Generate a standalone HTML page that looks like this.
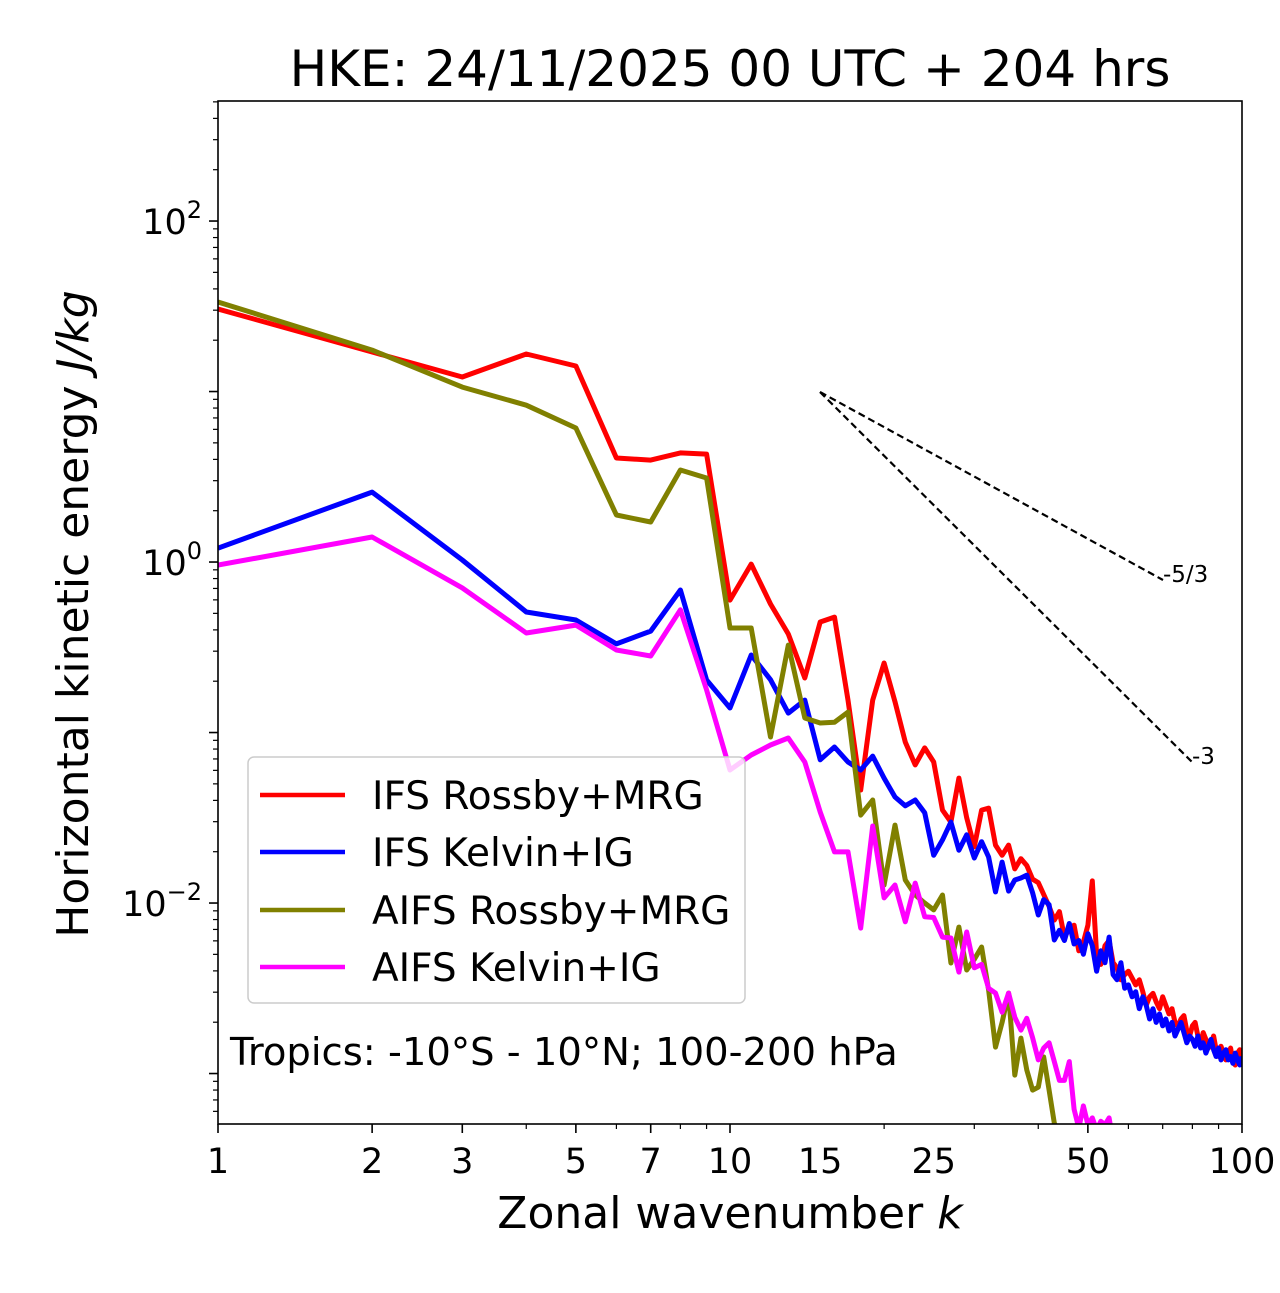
<!DOCTYPE html>
<html><head><meta charset="utf-8"><style>
body{margin:0;background:#fff}
svg text{font-family:"DejaVu Sans","Liberation Sans",sans-serif}
</style></head><body>
<svg id="chart" width="1280" height="1288" viewBox="0 0 1280 1288" xmlns="http://www.w3.org/2000/svg">
<rect width="1280" height="1288" fill="#fff"/>
<text x="730" y="86" font-size="50" text-anchor="middle">HKE: 24/11/2025 00 UTC + 204 hrs</text>
<defs><clipPath id="pc"><rect x="218" y="101" width="1024" height="1023"/></clipPath></defs>
<g id="ticks"></g>
<g id="series" clip-path="url(#pc)"></g>
<rect x="218" y="101" width="1024" height="1023" fill="none" stroke="#000" stroke-width="1.6"/>
<text x="730" y="1228" font-size="44" text-anchor="middle">Zonal wavenumber <tspan font-style="italic">k</tspan></text>
<text transform="translate(88,614) rotate(-90)" font-size="44" text-anchor="middle">Horizontal kinetic energy <tspan font-style="italic">J/kg</tspan></text>
<g>
<rect x="248" y="757" width="497" height="246" rx="6" fill="#fff" fill-opacity="0.8" stroke="#ccc" stroke-width="1.5"/>
<line x1="260" y1="795" x2="345" y2="795" stroke="#ff0000" stroke-width="4.5"/>
<text x="372" y="809" font-size="39">IFS Rossby+MRG</text>
<line x1="260" y1="852" x2="345" y2="852" stroke="#0000ff" stroke-width="4.5"/>
<text x="372" y="866" font-size="39">IFS Kelvin+IG</text>
<line x1="260" y1="910" x2="345" y2="910" stroke="#808000" stroke-width="4.5"/>
<text x="372" y="924" font-size="39">AIFS Rossby+MRG</text>
<line x1="260" y1="967" x2="345" y2="967" stroke="#ff00ff" stroke-width="4.5"/>
<text x="372" y="981" font-size="39">AIFS Kelvin+IG</text>
</g>
<text x="230" y="1065" font-size="38.5">Tropics: -10°S - 10°N; 100-200 hPa</text>
<line x1="820" y1="392" x2="1163" y2="580" stroke="#000" stroke-width="2.2" stroke-dasharray="7,4"/>
<line x1="820" y1="392" x2="1192" y2="762" stroke="#000" stroke-width="2.2" stroke-dasharray="7,4"/>
<text x="1163" y="582" font-size="23">-5/3</text>
<text x="1192" y="764" font-size="23">-3</text>
</svg>
<script>
// log10 of energy (J/kg), index i -> wavenumber k=i+1
const ifsRossbyLog=[1.484,1.232,1.085,1.22,1.15,0.61,0.598,0.64,0.633,-0.223,-0.012,-0.246,-0.422,-0.68,-0.352,-0.323,-0.81,-1.337,-0.81,-0.592,-0.82,-1.056,-1.19,-1.09,-1.173,-1.455,-1.525,-1.267,-1.5,-1.67,-1.455,-1.443,-1.66,-1.72,-1.66,-1.80,-1.74,-1.78,-1.86,-1.88,-1.95,-2.02,-2.10,-2.05,-2.20,-2.15,-2.13,-2.28,-2.23,-2.13,-1.87,-2.30,-2.36,-2.25,-2.22,-2.35,-2.38,-2.45,-2.42,-2.40,-2.44,-2.48,-2.45,-2.52,-2.60,-2.55,-2.53,-2.58,-2.62,-2.55,-2.60,-2.65,-2.62,-2.70,-2.72,-2.68,-2.66,-2.75,-2.78,-2.72,-2.70,-2.78,-2.82,-2.76,-2.80,-2.85,-2.83,-2.78,-2.86,-2.90,-2.84,-2.88,-2.92,-2.90,-2.85,-2.93,-2.95,-2.88,-2.86,-2.94];
const ifsKelvinLog=[0.082,0.41,0.012,-0.293,-0.34,-0.48,-0.405,-0.164,-0.692,-0.856,-0.545,-0.69,-0.886,-0.81,-1.16,-1.085,-1.173,-1.22,-1.138,-1.267,-1.378,-1.43,-1.396,-1.47,-1.72,-1.63,-1.525,-1.69,-1.6,-1.736,-1.64,-1.73,-1.935,-1.76,-1.93,-1.865,-1.853,-1.836,-1.94,-2.07,-1.98,-2.01,-2.217,-2.16,-2.22,-2.12,-2.24,-2.22,-2.30,-2.18,-2.25,-2.40,-2.28,-2.35,-2.20,-2.42,-2.45,-2.35,-2.50,-2.48,-2.55,-2.52,-2.62,-2.55,-2.60,-2.68,-2.62,-2.70,-2.65,-2.72,-2.68,-2.75,-2.70,-2.78,-2.74,-2.70,-2.76,-2.82,-2.78,-2.80,-2.84,-2.78,-2.85,-2.82,-2.88,-2.84,-2.80,-2.86,-2.90,-2.85,-2.92,-2.88,-2.86,-2.92,-2.90,-2.94,-2.88,-2.92,-2.95,-2.90];
const aifsRossbyLog=[1.525,1.243,1.026,0.92,0.786,0.276,0.235,0.54,0.493,-0.387,-0.387,-1.026,-0.487,-0.915,-0.944,-0.94,-0.88,-1.484,-1.396,-1.894,-1.543,-1.865,-1.953,-2.0,-2.04,-1.953,-2.352,-2.141,-2.393,-2.33,-2.258,-2.51,-2.845,-2.70,-2.528,-3.009,-2.792,-2.98,-3.097,-3.08,-2.903,-3.097,-3.29,-3.36,-3.5];
const aifsKelvinLog=[-0.018,0.147,-0.152,-0.416,-0.37,-0.516,-0.551,-0.28,-0.75,-1.22,-1.132,-1.073,-1.032,-1.173,-1.466,-1.70,-1.70,-2.147,-1.548,-1.97,-1.894,-2.11,-1.883,-2.08,-2.085,-2.2,-2.205,-2.405,-2.17,-2.38,-2.36,-2.5,-2.528,-2.64,-2.528,-2.67,-2.745,-2.676,-2.79,-2.92,-2.85,-2.82,-2.93,-3.04,-3.04,-2.93,-3.21,-3.32,-3.19,-3.30,-3.26,-3.33,-3.28,-3.30,-3.26,-3.4];
const xTickLabels=[1,2,3,5,7,10,15,25,50,100];
const yTickExps=[-2,0,2];

const X0=218,X1=1242,Y0=101,Y1=1124,LT=2.704,LB=-3.296;
const xs=k=>X0+(X1-X0)*Math.log10(k)/2;
const ys=l=>Y0+(Y1-Y0)*(LT-l)/(LT-LB);
const NS='http://www.w3.org/2000/svg';
const tg=document.getElementById('ticks'), sg=document.getElementById('series');
function mk(tag,attrs,parent){const e=document.createElementNS(NS,tag);for(const a in attrs)e.setAttribute(a,attrs[a]);parent.appendChild(e);return e;}
for(let k=1;k<=100;k++){
  const dec=Math.pow(10,Math.floor(Math.log10(k)+1e-9));
  if(k%dec!==0) continue;
  const major=xTickLabels.includes(k);
  const t=mk('line',{x1:xs(k),x2:xs(k),y1:Y1,y2:Y1+(major?9:5),stroke:'#000','stroke-width':major?1.6:1.2},tg);
  
  
}
xTickLabels.forEach(k=>{
  const t=mk('text',{x:xs(k),y:1173,'font-size':35,'text-anchor':'middle'},tg);
  t.textContent=k;
  
  
});
for(let d=-4;d<=2;d++){for(let m=1;m<10;m++){
  const l=d+Math.log10(m); if(l<LB||l>LT) continue;
  const y=ys(l);
  const t=mk('line',{x1:X0-(m===1?9:5),x2:X0,y1:y,y2:y,stroke:'#000','stroke-width':m===1?1.6:1.2},tg);
  
  
}}
yTickExps.forEach(e=>{
  const t=mk('text',{x:202,y:ys(e)+13,'font-size':35,'text-anchor':'end'},tg);
  t.innerHTML='10<tspan dy="-16" font-size="24">'+e.toString().replace('-','\u2212')+'</tspan>';
  
  
});
function draw(arr,color,name){
  const pts=arr.map((v,i)=>xs(i+1).toFixed(1)+','+ys(v).toFixed(1)).join(' ');
  const p=mk('polyline',{points:pts,fill:'none',stroke:color,'stroke-width':5,'stroke-linejoin':'round'},sg);
  
  
}
draw(ifsRossbyLog,'#ff0000','ifs-rossby-line');
draw(ifsKelvinLog,'#0000ff','ifs-kelvin-line');
draw(aifsRossbyLog,'#808000','aifs-rossby-line');
draw(aifsKelvinLog,'#ff00ff','aifs-kelvin-line');
</script>
</body></html>
